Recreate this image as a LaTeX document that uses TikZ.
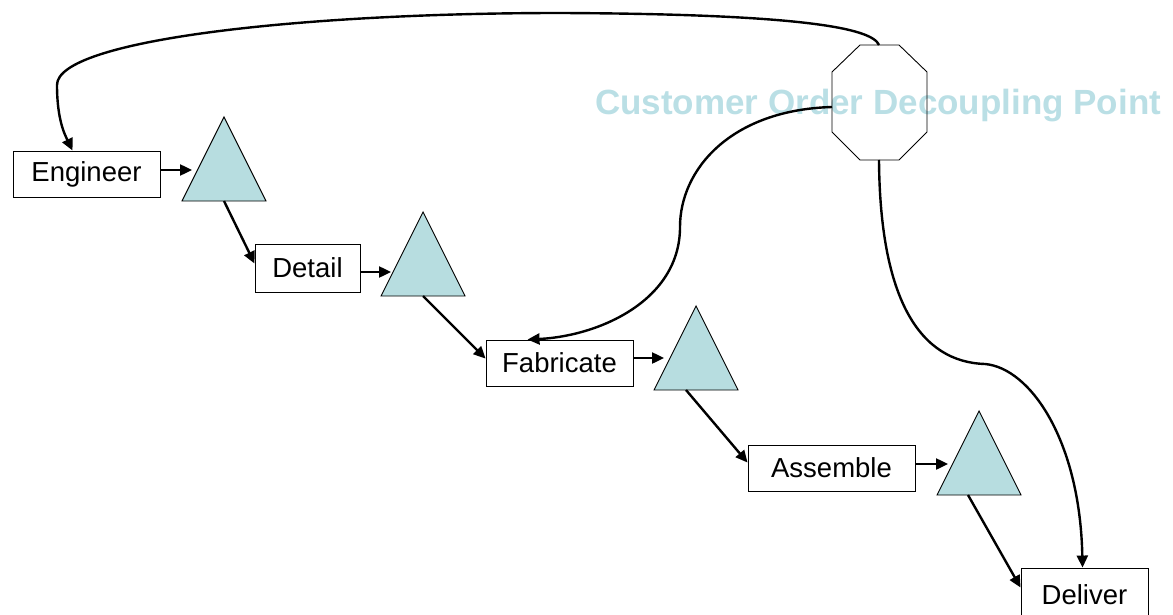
\documentclass[tikz,border=0pt]{standalone}
\usepackage{fontspec}
\setmainfont{Liberation Sans}
\usetikzlibrary{arrows.meta,calc}
\definecolor{stockblue}{RGB}{183,221,224}
\definecolor{titleblue}{RGB}{186,223,229}
\begin{document}
\begin{tikzpicture}[x=1pt,y=-1pt,
  stage/.style={draw=black, line width=0.9pt, fill=white, inner sep=0pt,
    minimum height=46pt, font=\fontsize{27.5}{32}\selectfont},
  stock/.style={draw=black, line width=0.9pt, fill=stockblue},
  flow/.style={draw=black, line width=2.4pt, -{Triangle[length=12pt,width=11pt]}},
  stockpile/.pic={\draw[stock] (0,0) -- (-42,84) -- (42,84) -- cycle;}]
\useasboundingbox (0,0) rectangle (1173,615);

% decoupling point label (drawn first so the lines sit on top)
\node[anchor=base west, inner sep=0pt, text=titleblue,
      font=\fontsize{35}{40}\selectfont\bfseries] (codlabel) at (595,115)
      {Customer Order Decoupling Point};

% process stages
\node[stage, minimum width=147pt] (eng) at (86.5,174) {Engineer};
\node[stage, minimum width=105pt, minimum height=48pt] (det) at (307.5,268) {Detail};
\node[stage, minimum width=147pt] (fab) at (559.5,363) {Fabricate};
\node[stage, minimum width=167pt] (asm) at (831.5,468) {Assemble};
\node[stage, minimum width=127pt, minimum height=54pt] (del) at (1084.5,595) {Deliver};

% stock triangles between stages
\pic at (224,117) {stockpile};
\pic at (423,212) {stockpile};
\pic at (696,306) {stockpile};
\pic at (979,411) {stockpile};
\coordinate (s1in) at (192,170);  \coordinate (s1out) at (224,201);
\coordinate (s2in) at (391,272);  \coordinate (s2out) at (423,296);
\coordinate (s3in) at (664,358);  \coordinate (s3out) at (686,390);
\coordinate (s4in) at (948,464);  \coordinate (s4out) at (968,495);

% decoupling point octagon
\draw[line width=0.9pt] (860,45) -- (899,45) -- (927,72) -- (927,132)
  -- (899,160) -- (860,160) -- (832,132) -- (832,72) -- cycle;
\coordinate (codtop) at (879,45);
\coordinate (codleft) at (832,107);
\coordinate (codbot) at (879,160);

% material flow
\draw[flow] (eng.east |- s1in) -- (s1in);
\draw[flow] (s1out) -- ($(det.north west)+(0,20)$);
\draw[flow] (det.east |- s2in) -- (s2in);
\draw[flow] (s2out) -- ($(fab.north west)+(0,19)$);
\draw[flow] (fab.east |- s3in) -- (s3in);
\draw[flow] (s3out) -- ($(asm.north west)+(0,18)$);
\draw[flow] (asm.east |- s4in) -- (s4in);
\draw[flow] (s4out) -- ($(del.north west)+(0,20)$);

% links from the decoupling point
\draw[flow] (codtop) .. controls (872,28) and (800,14) .. (560,13)
  .. controls (300,13) and (57,40) .. (57,85)
  .. controls (57,120) and (65,135) .. ($(eng.north west)+(60,0)$);
\draw[flow] (codleft) .. controls (730,110) and (680,170) .. (680,227)
  .. controls (680,300) and (600,336) .. ($(fab.north west)+(42,0)$);
\draw[flow] (codbot) .. controls (880,300) and (920,362) .. (985,364)
  .. controls (1030,368) and (1080,440) .. ($(del.north west)+(62,0)$);
\end{tikzpicture}
\end{document}
